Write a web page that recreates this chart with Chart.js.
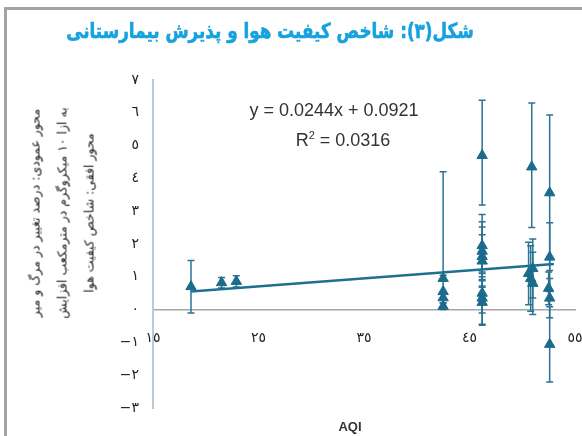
<!DOCTYPE html>
<html>
<head>
<meta charset="utf-8">
<script src="https://cdn.jsdelivr.net/npm/chart.js@4"></script>
<style>
  body { margin: 0; background: #fff; }
  #wrap { position: relative; width: 582px; height: 436px; overflow: hidden; font-family: "DejaVu Sans", sans-serif; }
  #frame { position: absolute; left: 4px; top: 7px; width: 700px; height: 600px; border-left: 3px solid #a3a3a3; border-top: 3px solid #a3a3a3; }
  #title { position: absolute; left: 270px; top: 31px; transform: translate(-50%, -50%) scaleX(0.8); white-space: nowrap; direction: rtl; font-weight: bold; font-size: 21px; color: #17a2de; -webkit-text-stroke: 0.6px #17a2de; }
  #side { position: absolute; left: 62px; top: 213px; transform: translate(-50%, -50%) rotate(-90deg); white-space: nowrap; direction: rtl; text-align: center; font-size: 12.5px; line-height: 27px; color: #222; }
  .eq { position: absolute; transform: translate(-50%, -50%); white-space: nowrap; font-family: "Liberation Sans", sans-serif; font-size: 18px; color: #333; }
  #xtitle { position: absolute; left: 350px; top: 426px; transform: translate(-50%, -50%); font-family: "Liberation Sans", sans-serif; font-weight: bold; font-size: 13px; color: #333; }
  canvas { position: absolute; left: 0; top: 0; }
</style>
</head>
<body>
<div id="wrap">
  <div id="frame"></div>
  <canvas id="myChart" width="582" height="436"></canvas>
  <div id="title">شکل(۳): شاخص کیفیت هوا و پذیرش بیمارستانی</div>
  <div id="side">محور عمودی: درصد تغییر در مرگ و میر<br>به ازا ۱۰ میکروگرم در مترمکعب افزایش<br>محور افقی: شاخص کیفیت هوا</div>
  <div class="eq" style="left:334px; top:110px;">y = 0.0244x + 0.0921</div>
  <div class="eq" style="left:343px; top:140px;">R<sup style="font-size:11px">2</sup> = 0.0316</div>
  <div id="xtitle">AQI</div>
</div>
<script>
  // values
  const aqi = [18.6, 21.5, 22.9, 42.5, 42.5, 42.5, 42.5, 46.2, 46.2, 46.2, 46.2, 46.2, 46.2, 46.2, 46.2, 50.6, 50.9, 51.0, 50.8, 51.0, 52.6, 52.6, 52.5, 52.6, 52.6];
  const change = [0.70, 0.82, 0.86, 0.95, 0.55, 0.36, 0.10, 4.70, 1.95, 1.78, 1.62, 1.48, 0.50, 0.35, 0.22, 1.10, 4.35, 1.25, 0.95, 0.80, 3.56, 1.60, 0.65, 0.35, -1.06];
  const errUp = [0.80, 0.16, 0.17, 3.25, 0.50, 0.15, 0.10, 1.68, 0.95, 0.90, 0.90, 0.80, 0.60, 0.80, 0.70, 0.95, 1.95, 0.90, 1.00, 0.95, 2.37, 1.05, 0.50, 0.60, 1.15];
  const errDown = [0.80, 0.16, 0.17, 0.05, 0.50, 0.15, 0.10, 1.51, 0.95, 0.90, 0.90, 0.80, 0.60, 0.80, 0.70, 0.95, 1.85, 0.90, 1.00, 0.95, 2.37, 1.05, 0.50, 0.60, 1.15];
  const trendX = [18.6, 53.0];
  const trendY = [0.55, 1.39];
  const xTicks = [15, 25, 35, 45, 55];
  const yTicks = [-3, -2, -1, 0, 1, 2, 3, 4, 5, 6, 7];

  const arabic = (n) => {
    const s = String(Math.abs(n)).replace(/[0-9]/g, (d) => "٠١٢٣٤٥٦٧٨٩"[d]);
    return n < 0 ? "−" + s : s;
  };

  const errorBars = {
    id: "errorBars",
    beforeDatasetsDraw(chart) {
      const { ctx, scales: { x, y } } = chart;
      ctx.save();
      ctx.strokeStyle = "#2a7393";
      ctx.lineWidth = 1.5;
      aqi.forEach((v, i) => {
        const px = x.getPixelForValue(v);
        const top = y.getPixelForValue(change[i] + errUp[i]);
        const bot = y.getPixelForValue(change[i] - errDown[i]);
        ctx.beginPath();
        ctx.moveTo(px, top); ctx.lineTo(px, bot);
        ctx.moveTo(px - 3.5, top); ctx.lineTo(px + 3.5, top);
        ctx.moveTo(px - 3.5, bot); ctx.lineTo(px + 3.5, bot);
        ctx.stroke();
      });
      ctx.restore();
    },
  };

  new Chart(document.getElementById("myChart"), {
    type: "scatter",
    plugins: [errorBars],
    data: {
      datasets: [
        {
          label: "change",
          data: aqi.map((v, i) => ({ x: v, y: change[i] })),
          pointStyle: "triangle",
          radius: 6,
          backgroundColor: "#1b6b8c",
          borderColor: "#1b6b8c",
          borderWidth: 1,
          order: 0,
        },
        {
          type: "line",
          label: "trend",
          data: trendX.map((v, i) => ({ x: v, y: trendY[i] })),
          borderColor: "#1f7090",
          borderWidth: 2.5,
          pointRadius: 0,
          order: 1,
        },
      ],
    },
    options: {
      responsive: false,
      animation: false,
      layout: { padding: { left: 100, right: 7, top: 80, bottom: 28 } },
      plugins: { legend: { display: false }, tooltip: { enabled: false } },
      scales: {
        x: {
          type: "linear",
          position: { y: 0 },
          min: 15,
          max: 55,
          afterBuildTicks: (scale) => { scale.ticks = xTicks.map((v) => ({ value: v })); },
          afterFit: (scale) => { scale.paddingLeft = 0; scale.paddingRight = 0; },
          grid: { display: false },
          border: { display: true, color: "#a6a6a6", width: 1.5 },
          ticks: { callback: (v) => arabic(v), padding: 12, color: "#222", font: { family: "DejaVu Sans", size: 14 } },
        },
        y: {
          min: -3,
          max: 7,
          afterBuildTicks: (scale) => { scale.ticks = yTicks.map((v) => ({ value: v })); },
          afterFit: (scale) => { scale.width = 53; scale.paddingTop = 0; scale.paddingBottom = 0; },
          grid: { display: false },
          border: { display: true, color: "#b9cad9", width: 2 },
          ticks: { callback: (v) => arabic(v), padding: 6, color: "#222", font: { family: "DejaVu Sans", size: 14 } },
        },
      },
    },
  });
</script>
</body>
</html>
